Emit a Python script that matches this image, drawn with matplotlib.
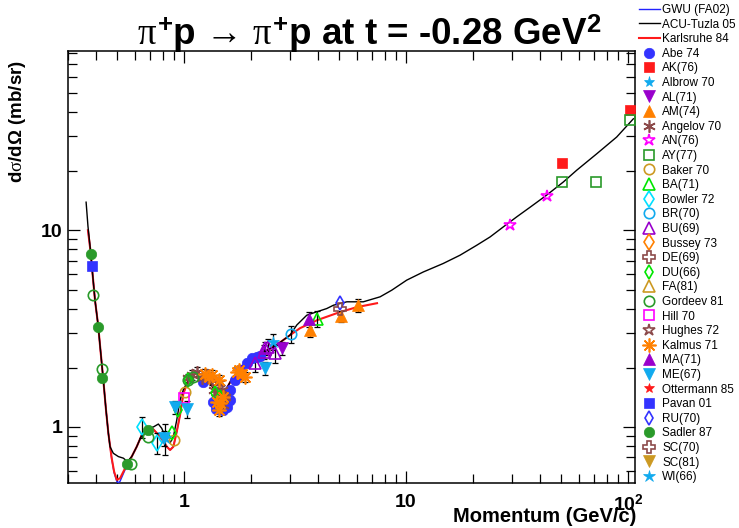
import matplotlib
matplotlib.use("Agg")
import matplotlib.pyplot as plt
from matplotlib.ticker import NullFormatter, LogLocator

plt.rcParams['font.family'] = ['Liberation Sans', 'DejaVu Sans']
plt.rcParams['mathtext.fontset'] = 'custom'
plt.rcParams['mathtext.rm'] = 'Liberation Sans:bold'
plt.rcParams['mathtext.bf'] = 'Liberation Sans:bold'
plt.rcParams['mathtext.sf'] = 'Liberation Sans:bold'
plt.rcParams['mathtext.it'] = 'Liberation Serif'

# -----------------------
# Model curves (momentum GeV/c, dsigma/dOmega mb/sr)
# -----------------------
gwu_p = [0.369, 0.380, 0.385, 0.397, 0.410, 0.418, 0.432, 0.445, 0.456, 0.472,
         0.484, 0.498, 0.506, 0.515, 0.533, 0.552, 0.581, 0.612, 0.645, 0.679,
         0.727, 0.780, 0.836, 0.865, 0.895, 0.927, 0.959, 0.993, 1.045, 1.12,
         1.22, 1.31, 1.39, 1.47, 1.55, 1.65, 1.79, 1.98, 2.20]
gwu_y = [10.0, 7.64, 6.41, 4.41, 3.30, 2.61, 1.77, 1.22, 0.929, 0.690,
         0.585, 0.528, 0.520, 0.530, 0.580, 0.635, 0.705, 0.794, 0.911, 0.973,
         0.973, 0.893, 0.794, 0.764, 0.794, 0.947, 1.15, 1.48, 1.73, 1.80,
         1.77, 1.67, 1.52, 1.45, 1.56, 1.77, 1.99, 2.19, 2.35]

karl_p = [0.369, 0.380, 0.385, 0.397, 0.410, 0.418, 0.432, 0.445, 0.456, 0.472,
          0.484, 0.498, 0.515, 0.533, 0.552, 0.581, 0.612, 0.645, 0.679, 0.727,
          0.780, 0.836, 0.865, 0.895, 0.927, 0.959, 0.993, 1.045, 1.12, 1.22,
          1.31, 1.39, 1.47, 1.55, 1.65, 1.79, 1.98, 2.20, 2.57, 3.00,
          3.33, 3.97, 5.04, 6.02, 7.40]
karl_y = [10.0, 7.64, 6.41, 4.41, 3.30, 2.61, 1.77, 1.22, 0.929, 0.694,
          0.593, 0.538, 0.549, 0.593, 0.641, 0.707, 0.794, 0.911, 0.973, 0.973,
          0.893, 0.794, 0.764, 0.794, 0.947, 1.15, 1.48, 1.73, 1.80, 1.77,
          1.67, 1.52, 1.45, 1.56, 1.77, 1.99, 2.19, 2.35, 2.58, 2.93,
          3.18, 3.49, 3.84, 4.07, 4.26]

acu_p = [0.362, 0.369, 0.380, 0.385, 0.397, 0.410, 0.418, 0.432, 0.445, 0.456,
         0.464, 0.480, 0.506, 0.533, 0.555, 0.581, 0.612, 0.645, 0.679, 0.727,
         0.766, 0.793, 0.836, 0.865, 0.895, 0.927, 0.959, 0.993, 1.045, 1.12,
         1.22, 1.31, 1.39, 1.47, 1.55, 1.65, 1.79, 1.98, 2.20, 2.57,
         3.00, 3.22, 3.57, 3.96, 4.39, 4.71, 5.41, 6.42, 7.64, 8.62,
         10.07, 11.96, 14.7, 17.5, 20.8, 23.9, 27.4, 31.5, 36.2, 43.0,
         51.1, 58.7, 72.3, 88.9, 105.7]
acu_y = [13.9, 10.5, 7.64, 6.41, 4.41, 3.30, 2.61, 1.77, 1.22, 0.929,
         0.794, 0.735, 0.707, 0.694, 0.667, 0.707, 0.794, 0.911, 0.985, 1.00,
         1.035, 0.985, 0.859, 0.830, 0.893, 1.085, 1.37, 1.55, 1.73, 1.80,
         1.77, 1.67, 1.52, 1.45, 1.56, 1.77, 1.99, 2.19, 2.35, 2.58,
         2.93, 3.30, 3.70, 3.85, 4.00, 4.16, 4.33, 4.33, 4.59, 4.96,
         5.58, 6.14, 6.78, 7.47, 8.39, 9.25, 10.4, 11.7, 13.1, 15.1,
         17.6, 20.2, 24.5, 29.8, 36.9]

# -----------------------
# Measurements
# -----------------------
abe_p = [1.22, 1.355, 1.38, 1.39, 1.44, 1.50, 1.56, 1.61, 1.61, 1.70, 1.79, 1.92, 2.02, 2.13, 2.20]
abe_y = [1.70, 1.34, 1.32, 1.24, 1.23, 1.22, 1.27, 1.37, 1.54, 1.73, 1.95, 2.11, 2.23, 2.27, 2.29]
abe_e = [0.06, 0.05, 0.05, 0.05, 0.05, 0.05, 0.05, 0.06, 0.07, 0.08, 0.09, 0.10, 0.10, 0.11, 0.11]

ak_p = [50.2, 102.0]
ak_y = [22.1, 40.7]

albrow_p, albrow_y = [], []

al_p = [2.75]
al_y = [2.51]
al_e = [0.2]

am_p = [3.69, 5.08, 6.10]
am_y = [3.11, 3.66, 4.16]
am_e = [0.25, 0.25, 0.3]

angelov_p = [1.045, 1.083, 1.14, 1.20, 1.266, 1.33, 1.36, 1.40, 1.43, 1.48, 1.50, 1.53]
angelov_y = [1.77, 1.84, 1.91, 1.77, 1.84, 1.73, 1.54, 1.48, 1.67, 1.54, 1.29, 1.42]
angelov_e = [0.1, 0.11, 0.11, 0.1, 0.11, 0.1, 0.09, 0.09, 0.1, 0.09, 0.08, 0.09]

an_p = [29.3, 43.3]
an_y = [10.6, 15.0]

ay_p = [50.2, 71.5, 102.0]
ay_y = [17.7, 17.7, 36.2]

baker_p = [0.904, 1.01]
baker_y = [0.859, 1.51]

ba_p = [3.96]
ba_y = [3.56]
ba_e = [0.35]

bowler_p = [0.645, 0.758]
bowler_y = [1.0, 0.827]
bowler_e = [0.12, 0.1]

br_p = [3.03]
br_y = [2.97]
br_e = [0.3]

bu_p = [1.82, 2.09, 2.28, 2.32, 2.40, 2.57]
bu_y = [1.91, 2.11, 2.41, 2.51, 2.56, 2.37]
bu_e = [0.15, 0.2, 0.2, 0.2, 0.25, 0.25]

bussey_p, bussey_y = [], []
de_p, de_y = [], []

du_p = [0.880, 0.943, 1.045, 1.38, 1.45]
du_y = [0.929, 1.22, 1.73, 1.48, 1.42]

fa_p, fa_y = [], []

gordeev_p = [0.390, 0.426, 0.577, 0.690, 1.045, 1.10]
gordeev_y = [4.68, 1.97, 0.649, 0.887, 1.73, 1.80]

hill_p = [1.003]
hill_y = [1.40]

hughes_p, hughes_y = [], []

kalmus_p = [1.24, 1.29, 1.33, 1.43, 1.40, 1.45, 1.50, 1.43, 1.73, 1.76, 1.82, 1.88]
kalmus_y = [1.87, 1.80, 1.84, 1.73, 1.34, 1.32, 1.42, 1.22, 1.91, 1.95, 1.87, 1.80]
kalmus_e = [0.1, 0.1, 0.1, 0.1, 0.08, 0.08, 0.08, 0.08, 0.1, 0.1, 0.1, 0.1]

ma_p = [3.66]
ma_y = [3.53]
ma_e = [0.3]

me_p = [0.813, 0.911, 1.03, 2.32]
me_y = [0.876, 1.26, 1.23, 1.99]
me_e = [0.08, 0.1, 0.12, 0.15]

ottermann_p, ottermann_y = [], []

pavan_p = [0.384]
pavan_y = [6.57]

ru_p = [5.04]
ru_y = [4.28]

sadler_p = [0.380, 0.411, 0.428, 0.553, 0.688]
sadler_y = [7.62, 3.23, 1.78, 0.649, 0.960]

sc70_p = [5.04]
sc70_y = [4.00]

sc81_p, sc81_y = [], []

wi_p = [0.821, 2.52]
wi_y = [0.880, 2.71]
wi_e = [0.16, 0.25]

# -----------------------
# Colours
# -----------------------
BLUE = '#3333ff'
RED = '#ff1a1a'
SKY = '#11aaee'
PURPLE = '#9900cc'
ORANGE = '#ff8000'
BROWN = '#8c4a4a'
MAGENTA = '#ff00ff'
GREEN = '#2a9a2a'
GOLD = '#cc9922'
LIME = '#00e600'
CYAN = '#00e0ff'

# label, p, y, err, marker, colour, filled, size
series = [
    ("Abe 74", abe_p, abe_y, abe_e, 'o', BLUE, True, 7.5),
    ("AK(76)", ak_p, ak_y, None, 's', RED, True, 7),
    ("Albrow 70", albrow_p, albrow_y, None, '*', SKY, True, 8),
    ("AL(71)", al_p, al_y, al_e, 'v', PURPLE, True, 8),
    ("AM(74)", am_p, am_y, am_e, '^', ORANGE, True, 8),
    ("Angelov 70", angelov_p, angelov_y, angelov_e, (6, 2, 0), BROWN, True, 9),
    ("AN(76)", an_p, an_y, None, '*', MAGENTA, False, 9),
    ("AY(77)", ay_p, ay_y, None, 's', GREEN, False, 7.5),
    ("Baker 70", baker_p, baker_y, None, 'o', GOLD, False, 7.5),
    ("BA(71)", ba_p, ba_y, ba_e, '^', LIME, False, 8),
    ("Bowler 72", bowler_p, bowler_y, bowler_e, 'd', CYAN, False, 8),
    ("BR(70)", br_p, br_y, br_e, 'o', SKY, False, 7.5),
    ("BU(69)", bu_p, bu_y, bu_e, '^', PURPLE, False, 8.5),
    ("Bussey 73", bussey_p, bussey_y, None, 'd', ORANGE, False, 8),
    ("DE(69)", de_p, de_y, None, 'P', BROWN, False, 8),
    ("DU(66)", du_p, du_y, None, 'd', LIME, False, 7),
    ("FA(81)", fa_p, fa_y, None, '^', GOLD, False, 8),
    ("Gordeev 81", gordeev_p, gordeev_y, None, 'o', GREEN, False, 7.5),
    ("Hill 70", hill_p, hill_y, None, 's', MAGENTA, False, 7.5),
    ("Hughes 72", hughes_p, hughes_y, None, '*', BROWN, False, 9),
    ("Kalmus 71", kalmus_p, kalmus_y, kalmus_e, (8, 2, 0), ORANGE, True, 10),
    ("MA(71)", ma_p, ma_y, ma_e, '^', PURPLE, True, 8),
    ("ME(67)", me_p, me_y, me_e, 'v', SKY, True, 8),
    ("Ottermann 85", ottermann_p, ottermann_y, None, '*', RED, True, 7),
    ("Pavan 01", pavan_p, pavan_y, None, 's', BLUE, True, 7),
    ("RU(70)", ru_p, ru_y, None, 'd', BLUE, False, 7.5),
    ("Sadler 87", sadler_p, sadler_y, None, 'o', GREEN, True, 7.5),
    ("SC(70)", sc70_p, sc70_y, None, 'P', BROWN, False, 8),
    ("SC(81)", sc81_p, sc81_y, None, 'v', GOLD, True, 8),
    ("WI(66)", wi_p, wi_y, wi_e, '*', SKY, True, 9),
]

# -----------------------
# Plot
# -----------------------
fig = plt.figure(figsize=(7.39, 5.28), dpi=100)
ax = fig.add_axes([68 / 739, 45 / 528, 567 / 739, 432 / 528])

handles = []
h, = ax.plot(gwu_p, gwu_y, color='#2222ff', lw=1.0, label="GWU (FA02)", zorder=3)
handles.append(h)
h, = ax.plot(acu_p, acu_y, color='black', lw=1.0, label="ACU-Tuzla 05", zorder=4)
handles.append(h)
h, = ax.plot(karl_p, karl_y, color=RED, lw=1.5, label="Karlsruhe 84", zorder=3.5)
handles.append(h)

for label, p, y, err, marker, color, filled, size in series:
    if err is not None:
        ax.errorbar(p, y, yerr=err, fmt='none', ecolor='black', elinewidth=0.9,
                    capsize=2.5, capthick=0.9, zorder=5)
    mew = 1.2 if not filled or isinstance(marker, tuple) else 0.5
    h, = ax.plot(p, y, linestyle='none', marker=marker, markersize=size,
                 markerfacecolor=color if filled else 'none',
                 markeredgecolor=color, markeredgewidth=mew, label=label, zorder=6)
    handles.append(h)

ax.set_xscale('log')
ax.set_yscale('log')
ax.set_xlim(0.300, 107.5)
ax.set_ylim(0.519, 81.6)

ax.set_xticks([1, 10, 100], ['1', '10', '$10^{2}$'])
ax.set_yticks([1, 10], ['1', '10'])
ax.xaxis.set_minor_locator(LogLocator(base=10, subs=range(2, 10)))
ax.yaxis.set_minor_locator(LogLocator(base=10, subs=range(2, 10)))
ax.xaxis.set_minor_formatter(NullFormatter())
ax.yaxis.set_minor_formatter(NullFormatter())
ax.tick_params(which='both', direction='in', top=True, right=True, width=0.9)
ax.tick_params(which='major', length=8.6)
ax.tick_params(which='minor', length=6.3)
ax.tick_params(axis='x', which='major', labelsize=14, pad=8)
ax.tick_params(axis='y', which='major', labelsize=14, pad=4)
for t in ax.get_xticklabels() + ax.get_yticklabels():
    t.set_fontweight('bold')
for s in ax.spines.values():
    s.set_linewidth(1.1)

fig.text(0.5, 1 - 45 / 528, r"$\pi^{+}$p → $\pi^{+}$p at t = -0.28 GeV$^{2}$",
         ha='center', va='baseline', fontsize=26.5, fontweight='bold')
fig.text(636 / 739, 1 - 517 / 528, "Momentum (GeV/c)", ha='right', va='center',
         fontsize=14.5, fontweight='bold')
fig.text(18 / 739, 1 - 60 / 528, r"d$\sigma$/d$\Omega$ (mb/sr)", rotation=90,
         ha='center', va='top', fontsize=13.5, fontweight='bold')

fig.legend(handles, [hh.get_label() for hh in handles], loc='upper left',
           bbox_to_anchor=(639 / 739, 1 - 4 / 528), frameon=False, borderpad=0,
           borderaxespad=0, handlelength=1.75, handletextpad=0.2,
           labelspacing=0.22, fontsize=8.5)

fig.savefig("out.png", dpi=100)
